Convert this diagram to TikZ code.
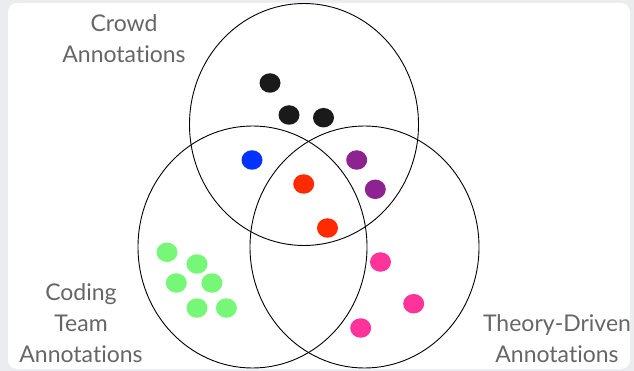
\documentclass[tikz,border=0pt]{standalone}
\usepackage{fontspec}
\setmainfont{Lato}[Ligatures={NoCommon}]
\usetikzlibrary{shapes.geometric}
\definecolor{bggray}{HTML}{EAECEF}
\definecolor{txtgray}{HTML}{666666}
\definecolor{dblack}{HTML}{1A1A1A}
\definecolor{dblue}{HTML}{0033FF}
\definecolor{dpurple}{HTML}{8E2290}
\definecolor{dred}{HTML}{FF2A00}
\definecolor{dgreen}{HTML}{77F777}
\definecolor{dpink}{HTML}{FF3399}
\newcommand\annotword{Annotat\kern0pt ions}
\tikzset{
  setring/.style={draw=black, line width=0.9pt, ellipse, minimum width=229pt, minimum height=242pt, inner sep=0pt},
  dot/.style={fill=#1, draw=none, ellipse, minimum width=21pt, minimum height=19.5pt, inner sep=0pt},
  lbl/.style={text=txtgray, align=center, font=\fontsize{23}{31}\selectfont, inner sep=0pt}
}
\begin{document}
\begin{tikzpicture}[x=1pt,y=-1pt]
\useasboundingbox (0,0) rectangle (634,371);
\fill[bggray] (0,0) rectangle (634,371);
\fill[white, rounded corners=9pt] (8,3) rectangle (630,369);
% set circles
\node[setring] (crowd) at (304,124.5) {};
\node[setring] (coding) at (252.5,247) {};
\node[setring] (theory) at (364.5,247) {};
% labels
\node[lbl] (crowdlbl) at (124,39) {Crowd\\\annotword};
\node[lbl] (codinglbl) at (81,323) {Coding\\Team\\\annotword};
\node[lbl] (theorylbl) at (557,339) {Theory-Driven\\\annotword};
% black dots
\node[dot=dblack] (k1) at (270,83) {};
\node[dot=dblack] (k2) at (289,115) {};
\node[dot=dblack] (k3) at (323.5,117.7) {};
% blue
\node[dot=dblue] (u1) at (252,160) {};
% purple
\node[dot=dpurple] (p1) at (356.7,160) {};
\node[dot=dpurple] (p2) at (375.3,189.3) {};
% red
\node[dot=dred] (r1) at (303.7,184) {};
\node[dot=dred] (r2) at (327.5,228) {};
% green
\node[dot=dgreen] (g1) at (167,252.3) {};
\node[dot=dgreen] (g2) at (197,264) {};
\node[dot=dgreen] (g3) at (176.3,283) {};
\node[dot=dgreen] (g4) at (211.9,283) {};
\node[dot=dgreen] (g5) at (197,308) {};
\node[dot=dgreen] (g6) at (226.4,308) {};
% pink
\node[dot=dpink] (m1) at (380.5,262) {};
\node[dot=dpink] (m2) at (413.7,303.7) {};
\node[dot=dpink] (m3) at (360.7,328) {};
\end{tikzpicture}
\end{document}
